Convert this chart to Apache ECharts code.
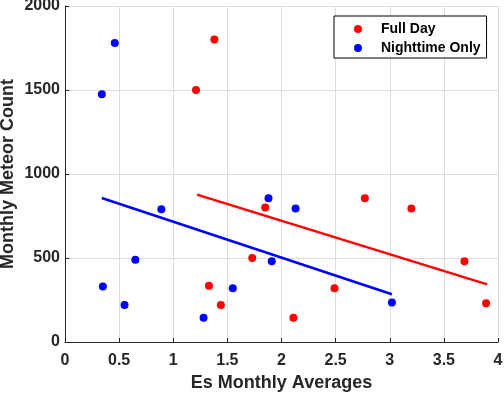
<!DOCTYPE html>
<html>
<head>
<meta charset="utf-8">
<script src="https://cdn.jsdelivr.net/npm/echarts@6/dist/echarts.min.js"></script>
<style>
  html, body { margin: 0; padding: 0; background: #fff; }
  #chart { width: 504px; height: 393px; }
</style>
</head>
<body>
<div id="chart"></div>
<script>
// values
var fullDayX = [1.38, 1.21, 2.77, 3.20, 1.85, 1.73, 1.33, 1.44, 2.49, 2.11, 3.69, 3.89];
var fullDayY = [1800, 1500, 855, 795, 800, 500, 335, 220, 320, 145, 480, 230];
var nightX = [0.46, 0.34, 0.89, 1.88, 2.13, 0.65, 1.91, 0.35, 0.55, 1.55, 1.28, 3.02];
var nightY = [1780, 1475, 790, 855, 795, 490, 480, 330, 220, 320, 145, 235];
// fitted trend line end points
var fullDayFitX = [1.22, 3.90];
var fullDayFitY = [877, 343];
var nightFitX = [0.34, 3.02];
var nightFitY = [857, 284];

function pairs(xs, ys) {
    var out = [];
    for (var i = 0; i < xs.length; i++) {
        out.push([xs[i], ys[i]]);
    }
    return out;
}

var axisColor = '#262626';
var font = 'Liberation Sans, Arial, sans-serif';

var myChart = echarts.init(document.getElementById('chart'), null, {renderer: 'canvas'});
myChart.setOption({
    animation: false,
    backgroundColor: '#fff',
    grid: {left: 65, right: 6, top: 6, bottom: 51, containLabel: false, outerBoundsMode: 'none'},
    legend: {
        data: ['Full Day', 'Nighttime Only'],
        orient: 'vertical',
        left: 334,
        top: 16,
        padding: [6, 6, 3, 20],
        itemGap: 5,
        itemWidth: 8,
        itemHeight: 8,
        icon: 'circle',
        borderColor: '#000',
        borderWidth: 1,
        backgroundColor: '#fff',
        textStyle: {
            fontFamily: font, fontWeight: 'bold', fontSize: 14, color: '#000',
            padding: [0, 0, 0, 14]
        }
    },
    xAxis: {
        type: 'value',
        min: 0, max: 4, interval: 0.5,
        name: 'Es Monthly Averages',
        nameLocation: 'middle',
        nameGap: 32,
        nameMoveOverlap: false,
        nameTextStyle: {fontFamily: font, fontWeight: 'bold', fontSize: 18, color: axisColor},
        axisLine: {show: true, lineStyle: {color: axisColor, width: 1}},
        axisTick: {show: true, inside: true, length: 4, lineStyle: {color: axisColor}},
        axisLabel: {fontFamily: font, fontWeight: 'bold', fontSize: 16, color: axisColor, margin: 11},
        splitLine: {show: true, lineStyle: {color: '#dcdcdc', width: 1}}
    },
    yAxis: {
        type: 'value',
        min: 0, max: 2000, interval: 500,
        name: 'Monthly Meteor Count',
        nameLocation: 'middle',
        nameGap: 48,
        nameMoveOverlap: false,
        nameTextStyle: {fontFamily: font, fontWeight: 'bold', fontSize: 18, color: axisColor},
        axisLine: {show: true, lineStyle: {color: axisColor, width: 1}},
        axisTick: {show: true, inside: true, length: 4, lineStyle: {color: axisColor}},
        axisLabel: {
            fontFamily: font, fontWeight: 'bold', fontSize: 16, color: axisColor, margin: 5,
            formatter: function (v) { return String(v); }
        },
        splitLine: {show: true, lineStyle: {color: '#dcdcdc', width: 1}}
    },
    series: [
        {
            name: 'Full Day fit',
            type: 'line',
            data: pairs(fullDayFitX, fullDayFitY),
            symbol: 'none',
            lineStyle: {color: '#ff0000', width: 2.5},
            z: 2
        },
        {
            name: 'Nighttime Only fit',
            type: 'line',
            data: pairs(nightFitX, nightFitY),
            symbol: 'none',
            lineStyle: {color: '#0000ff', width: 2.5},
            z: 2
        },
        {
            name: 'Full Day',
            type: 'scatter',
            data: pairs(fullDayX, fullDayY),
            symbol: 'circle',
            symbolSize: 8,
            itemStyle: {color: '#ff0000', opacity: 1},
            z: 3
        },
        {
            name: 'Nighttime Only',
            type: 'scatter',
            data: pairs(nightX, nightY),
            symbol: 'circle',
            symbolSize: 8,
            itemStyle: {color: '#0000ff', opacity: 1},
            z: 3
        }
    ]
});
</script>
</body>
</html>
